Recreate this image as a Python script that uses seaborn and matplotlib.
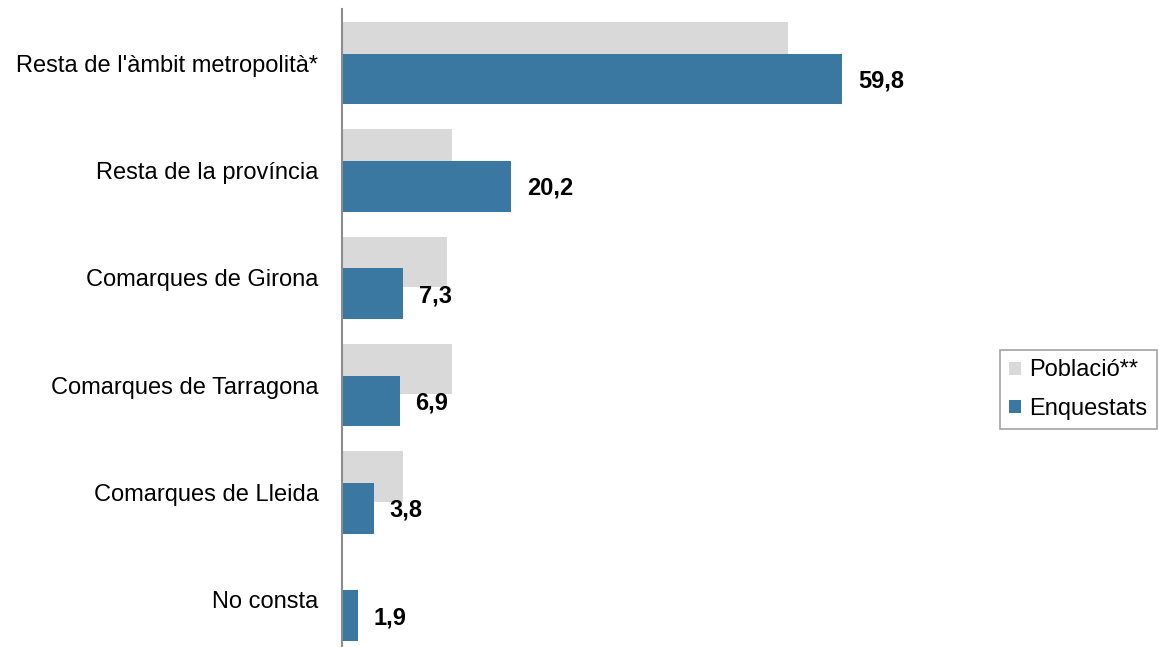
import numpy as np
import pandas as pd
import matplotlib
matplotlib.use("Agg")
import matplotlib.pyplot as plt
import seaborn as sns
from matplotlib.patches import Patch

# --- dades / data ---
categories = ["Resta de l'àmbit metropolità*", "Resta de la província",
              "Comarques de Girona", "Comarques de Tarragona",
              "Comarques de Lleida", "No consta"]
poblacio = [53.4, 13.2, 12.6, 13.2, 7.3, 0.0]
enquestats = [59.8, 20.2, 7.3, 6.9, 3.8, 1.9]
enquestats_labels = ["59,8", "20,2", "7,3", "6,9", "3,8", "1,9"]

gray = "#d9d9d9"
blue = "#3a77a1"

sns.set_style("white")
plt.rcParams['font.family'] = ['Liberation Sans', 'DejaVu Sans']

fig = plt.figure(figsize=(11.59, 6.47), dpi=100)
ax = fig.add_axes([342 / 1159, 0, (1000 - 342) / 1159, (647 - 9.4) / 647])

df = pd.DataFrame({"cat": categories, "pob": poblacio, "enq": enquestats})

bar_h = 0.47
shift = 0.148

# població (darrere) / population (behind)
sns.barplot(data=df, x="pob", y="cat", color=gray, width=bar_h,
            saturation=1, ax=ax, order=categories, linewidth=0)
n = len(categories)
for p in ax.patches[:n]:
    p.set_y(p.get_y() - shift)

# enquestats (davant) / respondents (front)
sns.barplot(data=df, x="enq", y="cat", color=blue, width=bar_h,
            saturation=1, ax=ax, order=categories, linewidth=0)
for p in ax.patches[n:]:
    p.set_y(p.get_y() + shift)

# etiquetes de valor / value labels
for i, (v, lab) in enumerate(zip(enquestats, enquestats_labels)):
    ax.text(v + 1.9, i + shift + 0.02, lab, va="center", ha="left",
            fontsize=17, fontweight="bold", color="black")

ax.set_xlim(0, 78.7)
ax.set_ylim(5.44, -0.5)
ax.set_xlabel("")
ax.set_ylabel("")
ax.set_xticks([])
ax.tick_params(axis="y", length=0, pad=17, labelsize=17, labelcolor="black")
for s in ["top", "right", "bottom"]:
    ax.spines[s].set_visible(False)
ax.spines["left"].set_color("#8c8c8c")
ax.spines["left"].set_linewidth(1.5)

handles = [Patch(facecolor=gray, edgecolor="none", label="Població**"),
           Patch(facecolor=blue, edgecolor="none", label="Enquestats")]
leg = fig.legend(handles=handles, loc="upper left",
                 bbox_to_anchor=(1000 / 1159, 1 - 350 / 647),
                 fontsize=17, frameon=True, fancybox=False,
                 handlelength=0.47, handleheight=0.47, handletextpad=0.38,
                 borderpad=0.4, labelspacing=0.7, borderaxespad=0)
for t in leg.get_texts():
    t.set_color("black")
leg.get_frame().set_edgecolor("#8c8c8c")
leg.get_frame().set_linewidth(1.2)

fig.savefig("out.png", dpi=100)
